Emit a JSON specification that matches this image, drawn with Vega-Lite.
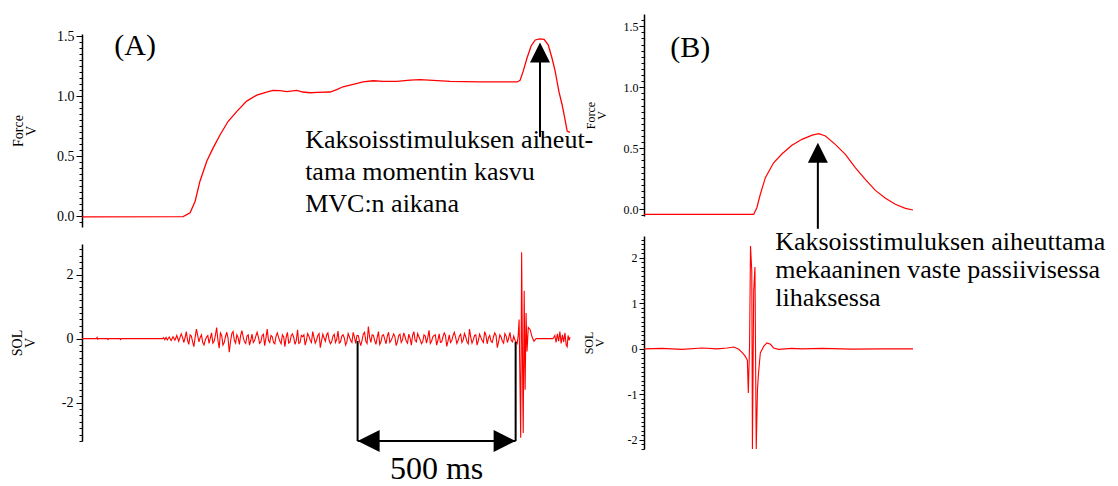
{
  "$schema": "https://vega.github.io/schema/vega-lite/v6.json",
  "padding": {"left": 10, "top": 12, "right": 0, "bottom": 0},
  "background": "white",
  "config": {
    "view": {"stroke": null},
    "axis": {"grid": false, "domainColor": "#000", "domainWidth": 1.5, "tickColor": "#000", "tickWidth": 1, "labelColor": "#000", "titleColor": "#000", "labelFont": "Liberation Serif", "titleFont": "Liberation Serif", "titleFontWeight": "normal", "labelOverlap": false, "labelFlush": false, "labelBound": false},
    "text": {"font": "Liberation Serif", "color": "#000"}
  },
  "datasets": {
    "forceA": [{"t":0,"v":-0.006},{"t":320,"v":-0.004},{"t":342,"v":0.028},{"t":358,"v":0.125},{"t":373,"v":0.29},{"t":395,"v":0.46},{"t":415,"v":0.57},{"t":437,"v":0.68},{"t":462,"v":0.79},{"t":490,"v":0.875},{"t":521,"v":0.96},{"t":553,"v":1.01},{"t":584,"v":1.036},{"t":604,"v":1.05},{"t":627,"v":1.047},{"t":648,"v":1.04},{"t":679,"v":1.05},{"t":699,"v":1.036},{"t":722,"v":1.03},{"t":743,"v":1.033},{"t":785,"v":1.036},{"t":806,"v":1.056},{"t":826,"v":1.08},{"t":858,"v":1.1},{"t":889,"v":1.12},{"t":921,"v":1.13},{"t":953,"v":1.125},{"t":996,"v":1.125},{"t":1038,"v":1.136},{"t":1070,"v":1.14},{"t":1165,"v":1.125},{"t":1259,"v":1.12},{"t":1377,"v":1.12},{"t":1386,"v":1.133},{"t":1396,"v":1.21},{"t":1408,"v":1.32},{"t":1421,"v":1.42},{"t":1434,"v":1.47},{"t":1449,"v":1.48},{"t":1462,"v":1.475},{"t":1475,"v":1.43},{"t":1487,"v":1.32},{"t":1497,"v":1.21},{"t":1509,"v":1.04},{"t":1519,"v":0.93},{"t":1528,"v":0.81},{"t":1535,"v":0.71},{"t":1544,"v":0.70}],
    "solA": [{"t":0,"v":0},{"t":45,"v":0},{"t":48,"v":0.04},{"t":50,"v":-0.02},{"t":52,"v":0},{"t":80,"v":0},{"t":82,"v":-0.03},{"t":84,"v":0},{"t":120,"v":0},{"t":122,"v":-0.03},{"t":124,"v":0},{"t":255,"v":0},{"t":258,"v":0.03},{"t":262,"v":-0.03},{"t":266,"v":0.04},{"t":270,"v":-0.04},{"t":276,"v":0.05},{"t":282,"v":-0.06},{"t":288,"v":0.06},{"t":294,"v":-0.05},{"t":300,"v":0.1},{"t":306,"v":-0.08},
      {"t":314,"v":0.15},{"t":322,"v":-0.12},{"t":330,"v":0.22},{"t":338,"v":-0.18},{"t":346,"v":0.08},{"t":354,"v":-0.25},{"t":362,"v":0.3},{"t":370,"v":-0.1},{"t":378,"v":0.12},{"t":386,"v":-0.2},{"t":394,"v":0.05},{"t":402,"v":-0.15},{"t":410,"v":0.18},{"t":418,"v":-0.08},{"t":426,"v":0.35},{"t":434,"v":-0.3},{"t":442,"v":0.1},{"t":450,"v":-0.12},{"t":458,"v":0.2},{"t":466,"v":-0.42},{"t":474,"v":0.16},{"t":482,"v":-0.05},{"t":490,"v":0.12},{"t":498,"v":-0.18},{"t":506,"v":0.25},{"t":514,"v":-0.1},{"t":522,"v":0.08},{"t":530,"v":-0.2},{"t":538,"v":0.14},{"t":546,"v":-0.06},{"t":554,"v":0.2},{"t":562,"v":-0.15},{"t":570,"v":0.1},{"t":578,"v":-0.22},{"t":586,"v":0.3},{"t":594,"v":-0.12},{"t":602,"v":0.06},{"t":610,"v":-0.16},{"t":618,"v":0.18},{"t":626,"v":-0.08},{"t":634,"v":0.12},{"t":642,"v":-0.25},{"t":650,"v":0.2},{"t":658,"v":-0.1},{"t":666,"v":0.15},{"t":674,"v":-0.18},{"t":682,"v":0.28},{"t":690,"v":-0.12},{"t":698,"v":0.06},{"t":706,"v":-0.2},{"t":714,"v":0.16},{"t":722,"v":-0.05},{"t":730,"v":0.22},{"t":738,"v":-0.14},{"t":746,"v":0.1},{"t":754,"v":-0.28},{"t":762,"v":0.14},{"t":770,"v":-0.08},{"t":778,"v":0.18},{"t":786,"v":-0.16},{"t":794,"v":0.08},{"t":802,"v":-0.12},{"t":810,"v":0.24},{"t":818,"v":-0.1},{"t":826,"v":0.12},{"t":834,"v":-0.2},{"t":842,"v":0.16},{"t":850,"v":-0.06},{"t":858,"v":0.2},{"t":866,"v":-0.15},{"t":874,"v":0.1},{"t":882,"v":-0.22},{"t":890,"v":0.14},{"t":898,"v":-0.08},{"t":906,"v":0.38},{"t":914,"v":-0.12},{"t":922,"v":0.1},{"t":930,"v":-0.18},{"t":938,"v":0.22},{"t":946,"v":-0.1},{"t":954,"v":0.12},{"t":962,"v":-0.16},{"t":970,"v":0.2},{"t":978,"v":-0.06},{"t":986,"v":0.15},{"t":994,"v":-0.22},{"t":1002,"v":0.1},{"t":1010,"v":-0.12},{"t":1018,"v":0.18},{"t":1026,"v":-0.08},{"t":1034,"v":0.14},{"t":1042,"v":-0.2},{"t":1050,"v":0.22},{"t":1058,"v":-0.1},{"t":1066,"v":0.06},{"t":1074,"v":-0.16},{"t":1082,"v":0.12},{"t":1090,"v":-0.14},{"t":1098,"v":0.26},{"t":1106,"v":-0.08},{"t":1114,"v":0.1},{"t":1122,"v":-0.2},{"t":1130,"v":0.15},{"t":1138,"v":-0.1},{"t":1146,"v":0.18},{"t":1154,"v":-0.24},{"t":1162,"v":0.12},{"t":1170,"v":-0.06},{"t":1178,"v":0.2},{"t":1186,"v":-0.15},{"t":1194,"v":0.08},{"t":1202,"v":-0.12},{"t":1210,"v":0.16},{"t":1218,"v":-0.1},{"t":1226,"v":0.3},{"t":1234,"v":-0.14},{"t":1242,"v":0.1},{"t":1250,"v":-0.2},{"t":1258,"v":0.14},{"t":1266,"v":-0.06},{"t":1274,"v":0.22},{"t":1282,"v":-0.16},{"t":1290,"v":0.1},{"t":1298,"v":-0.12},{"t":1306,"v":0.18},{"t":1314,"v":-0.28},{"t":1322,"v":0.12},{"t":1330,"v":-0.08},{"t":1338,"v":0.16},{"t":1346,"v":-0.12},{"t":1354,"v":0.2},{"t":1362,"v":-0.1},{"t":1370,"v":-0.05},
      {"t":318,"v":0.05},{"t":326,"v":0.02},{"t":334,"v":-0.05},{"t":342,"v":0.12},{"t":350,"v":-0.1},{"t":358,"v":0.05},{"t":366,"v":0.1},{"t":374,"v":0.04},{"t":382,"v":-0.12},{"t":390,"v":-0.05},{"t":398,"v":0.1},{"t":406,"v":0.02},{"t":414,"v":-0.14},{"t":422,"v":0.1},{"t":430,"v":-0.05},{"t":438,"v":0.18},{"t":446,"v":-0.2},{"t":454,"v":0.06},{"t":462,"v":0.02},{"t":470,"v":-0.08},{"t":478,"v":0.22},{"t":486,"v":-0.14},{"t":494,"v":0.03},{"t":502,"v":0.1},{"t":510,"v":0.05},{"t":518,"v":-0.15},{"t":526,"v":0.12},{"t":534,"v":-0.05},{"t":542,"v":-0.12},{"t":550,"v":0.08},{"t":558,"v":0.05},{"t":566,"v":-0.1},{"t":574,"v":0.14},{"t":582,"v":0.02},{"t":590,"v":-0.05},{"t":598,"v":0.1},{"t":606,"v":-0.12},{"t":614,"v":0.08},{"t":622,"v":0.04},{"t":630,"v":-0.16},{"t":638,"v":0.06},{"t":646,"v":0.05},{"t":654,"v":-0.14},{"t":662,"v":0.1},{"t":670,"v":0.03},{"t":678,"v":-0.06},{"t":686,"v":-0.15},{"t":694,"v":0.1},{"t":702,"v":0.12},{"t":710,"v":-0.06},{"t":718,"v":0.08},{"t":726,"v":-0.12},{"t":734,"v":0.04},{"t":742,"v":-0.05},{"t":750,"v":0.16},{"t":758,"v":-0.06},{"t":766,"v":0.02},{"t":774,"v":0.12},{"t":782,"v":-0.05},{"t":790,"v":-0.1},{"t":798,"v":0.14},{"t":806,"v":-0.02},{"t":814,"v":-0.14},{"t":822,"v":0.08},{"t":830,"v":0.02},{"t":838,"v":-0.1},{"t":846,"v":0.06},{"t":854,"v":-0.12},{"t":862,"v":0.05},{"t":870,"v":0.1},{"t":878,"v":-0.08},{"t":886,"v":-0.05},{"t":894,"v":0.2},{"t":902,"v":-0.15},{"t":910,"v":0.05},{"t":918,"v":0.12},{"t":926,"v":-0.06},{"t":934,"v":0.04},{"t":942,"v":-0.18},{"t":950,"v":0.1},{"t":958,"v":-0.02},{"t":966,"v":0.08},{"t":974,"v":-0.12},{"t":982,"v":0.04},{"t":990,"v":0.06},{"t":998,"v":-0.1},{"t":1006,"v":0.14},{"t":1014,"v":-0.04},{"t":1022,"v":0.06},{"t":1030,"v":-0.14},{"t":1038,"v":0.02},{"t":1046,"v":0.1},{"t":1054,"v":-0.06},{"t":1062,"v":0.16},{"t":1070,"v":-0.04},{"t":1078,"v":-0.1},{"t":1086,"v":0.08},{"t":1094,"v":0.04},{"t":1102,"v":-0.15},{"t":1110,"v":0.06},{"t":1118,"v":0.12},{"t":1126,"v":-0.05},{"t":1134,"v":-0.12},{"t":1142,"v":0.06},{"t":1150,"v":0.1},{"t":1158,"v":-0.08},{"t":1166,"v":-0.12},{"t":1174,"v":0.1},{"t":1182,"v":0.05},{"t":1190,"v":-0.06},{"t":1198,"v":0.14},{"t":1206,"v":-0.04},{"t":1214,"v":0.06},{"t":1222,"v":-0.16},{"t":1230,"v":0.05},{"t":1238,"v":-0.04},{"t":1246,"v":0.12},{"t":1254,"v":-0.06},{"t":1262,"v":0.04},{"t":1270,"v":-0.12},{"t":1278,"v":0.1},{"t":1286,"v":0.02},{"t":1294,"v":-0.08},{"t":1302,"v":0.06},{"t":1310,"v":0.1},{"t":1318,"v":-0.1},{"t":1326,"v":0.05},{"t":1334,"v":-0.14},{"t":1342,"v":0.08},{"t":1350,"v":0.02},{"t":1358,"v":-0.06},{"t":1366,"v":0.08},
      {"t":1377,"v":-0.15},{"t":1380,"v":0.1},{"t":1383,"v":0.6},{"t":1388,"v":-3.1},{"t":1391,"v":2.7},{"t":1394,"v":-1.0},{"t":1396,"v":-2.95},{"t":1399,"v":1.5},{"t":1402,"v":-1.6},{"t":1405,"v":0.8},{"t":1408,"v":-0.4},{"t":1412,"v":0.35},{"t":1418,"v":0.28},{"t":1424,"v":0.05},{"t":1430,"v":-0.08},{"t":1437,"v":0.0},{"t":1443,"v":0.0},{"t":1490,"v":0.0},{"t":1496,"v":0.1},{"t":1500,"v":-0.12},{"t":1504,"v":0.15},{"t":1508,"v":-0.08},{"t":1512,"v":0.22},{"t":1516,"v":-0.15},{"t":1520,"v":0.12},{"t":1524,"v":-0.1},{"t":1528,"v":0.18},{"t":1532,"v":-0.2},{"t":1535,"v":-0.25},{"t":1538,"v":0.1},{"t":1541,"v":-0.05},{"t":1544,"v":0.05}],
    "forceB": [{"t":0,"v":-0.041},{"t":347,"v":-0.041},{"t":357,"v":0.013},{"t":368,"v":0.123},{"t":384,"v":0.259},{"t":410,"v":0.381},{"t":437,"v":0.455},{"t":468,"v":0.524},{"t":500,"v":0.573},{"t":532,"v":0.608},{"t":553,"v":0.619},{"t":574,"v":0.6},{"t":605,"v":0.532},{"t":637,"v":0.45},{"t":669,"v":0.34},{"t":700,"v":0.245},{"t":732,"v":0.155},{"t":764,"v":0.09},{"t":795,"v":0.041},{"t":827,"v":0.008},{"t":851,"v":-0.006}],
    "solB": [{"t":0,"v":0},{"t":57,"v":0.01},{"t":120,"v":-0.01},{"t":184,"v":0.02},{"t":231,"v":0.0},{"t":263,"v":0.02},{"t":284,"v":0.04},{"t":300,"v":-0.01},{"t":313,"v":-0.1},{"t":320,"v":-0.16},{"t":327,"v":-0.25},{"t":330,"v":-0.97},{"t":334,"v":0.1},{"t":337,"v":2.26},{"t":341,"v":1.7},{"t":343,"v":-2.2},{"t":347,"v":1.27},{"t":351,"v":1.8},{"t":355,"v":-2.2},{"t":359,"v":-0.9},{"t":362,"v":-0.56},{"t":368,"v":-0.09},{"t":379,"v":0.06},{"t":389,"v":0.13},{"t":400,"v":0.1},{"t":410,"v":0.02},{"t":426,"v":-0.01},{"t":468,"v":0.01},{"t":500,"v":0.0},{"t":563,"v":0.01},{"t":658,"v":-0.005},{"t":753,"v":0.0},{"t":851,"v":0.0}]
  },
  "hconcat": [
    {
      "spacing": 17,
      "bounds": "flush",
      "vconcat": [
        {"width": 488, "height": 3, "data": {"values": [{"t": 0}]}, "mark": {"type": "point", "opacity": 0}, "encoding": {}},
        {
          "width": 488, "height": 193,
          "resolve": {"axis": {"y": "independent"}},
          "layer": [
            {"data": {"name": "forceA"}, "mark": {"type": "line", "color": "#ff0000", "strokeWidth": 1.3},
             "encoding": {
               "x": {"field": "t", "type": "quantitative", "scale": {"domain": [0, 1544], "nice": false, "zero": false}, "axis": null},
               "y": {"field": "v", "type": "quantitative", "scale": {"domain": [-0.09, 1.52], "nice": false, "zero": false},
                 "axis": {"orient": "left", "title": ["Force", "V"], "titleFontSize": 14, "titleLineHeight": 13, "titlePadding": 18, "labelFontSize": 14, "labelPadding": 2, "labelOverlap": false,
                   "values": [0, 0.5, 1, 1.5], "format": ".1f", "tickSize": 6}}
             }},
            {"data": {"name": "forceA"}, "mark": {"type": "line", "opacity": 0},
             "encoding": {
               "x": {"field": "t", "type": "quantitative", "axis": null},
               "y": {"field": "v", "type": "quantitative",
                 "axis": {"orient": "left", "title": null, "labels": false, "domain": false, "tickSize": 3,
                   "values": [-0.05,0,0.05,0.1,0.15,0.2,0.25,0.3,0.35,0.4,0.45,0.5,0.55,0.6,0.65,0.7,0.75,0.8,0.85,0.9,0.95,1,1.05,1.1,1.15,1.2,1.25,1.3,1.35,1.4,1.45,1.5]}}
             }},
            {"data": {"values": [{"t": 1449, "v": 0.66, "v2": 1.3}]}, "mark": {"type": "rule", "color": "#000", "strokeWidth": 2},
             "encoding": {"x": {"field": "t", "type": "quantitative", "axis": null}, "y": {"field": "v", "type": "quantitative", "axis": null}, "y2": {"field": "v2"}}},
            {"data": {"values": [{"t": 1449, "v": 1.45}]}, "mark": {"type": "point", "shape": "M0,0L-1,2L1,2Z", "size": 400, "filled": true, "color": "#000", "opacity": 1},
             "encoding": {"x": {"field": "t", "type": "quantitative", "axis": null}, "y": {"field": "v", "type": "quantitative", "axis": null}}},
            {"data": {"values": [{"t": 168, "v": 1.42, "label": "(A)"}]}, "mark": {"type": "text", "font": "Liberation Serif", "fontSize": 30, "align": "center", "baseline": "middle"},
             "encoding": {"x": {"field": "t", "type": "quantitative", "axis": null}, "y": {"field": "v", "type": "quantitative", "axis": null}, "text": {"field": "label"}}},
            {"data": {"values": [{"t": 706, "v": 0.567, "label": "Kaksoisstimuluksen aiheut-\ntama momentin kasvu\nMVC:n aikana"}]}, "mark": {"type": "text", "font": "Liberation Serif", "fontSize": 26, "align": "left", "baseline": "alphabetic", "lineBreak": "\n", "lineHeight": 32},
             "encoding": {"x": {"field": "t", "type": "quantitative", "axis": null}, "y": {"field": "v", "type": "quantitative", "axis": null}, "text": {"field": "label"}}}
          ]
        },
        {
          "width": 488, "height": 197,
          "resolve": {"axis": {"y": "independent"}},
          "layer": [
            {"data": {"name": "solA"}, "mark": {"type": "line", "color": "#ff0000", "strokeWidth": 1.1},
             "encoding": {
               "x": {"field": "t", "type": "quantitative", "scale": {"domain": [0, 1544], "nice": false, "zero": false}, "axis": null},
               "y": {"field": "v", "type": "quantitative", "scale": {"domain": [-3.2, 2.96], "nice": false, "zero": false},
                 "axis": {"orient": "left", "title": ["SOL", "V"], "titleFontSize": 14, "titleLineHeight": 13, "titlePadding": 24, "labelFontSize": 14, "labelPadding": 3, "labelOverlap": false,
                   "values": [-2, 0, 2], "labelExpr": "datum.value < 0 ? '-' + abs(datum.value) : '' + datum.value", "tickSize": 6}}
             }},
            {"data": {"name": "solA"}, "mark": {"type": "line", "opacity": 0},
             "encoding": {
               "x": {"field": "t", "type": "quantitative", "axis": null},
               "y": {"field": "v", "type": "quantitative",
                 "axis": {"orient": "left", "title": null, "labels": false, "domain": false, "tickSize": 3,
                   "values": [-3.2,-3,-2.8,-2.6,-2.4,-2.2,-2,-1.8,-1.6,-1.4,-1.2,-1,-0.8,-0.6,-0.4,-0.2,0,0.2,0.4,0.6,0.8,1,1.2,1.4,1.6,1.8,2,2.2,2.4,2.6,2.8]}}
             }},
            {"data": {"values": [{"t": 872, "v": -0.07, "v2": -3.2}, {"t": 1372, "v": -0.1, "v2": -3.2}]}, "mark": {"type": "rule", "color": "#000", "strokeWidth": 2},
             "encoding": {"x": {"field": "t", "type": "quantitative", "axis": null}, "y": {"field": "v", "type": "quantitative", "axis": null}, "y2": {"field": "v2"}}},
            {"data": {"values": [{"t": 872, "t2": 1372, "v": -3.2}]}, "mark": {"type": "rule", "color": "#000", "strokeWidth": 2},
             "encoding": {"x": {"field": "t", "type": "quantitative", "axis": null}, "x2": {"field": "t2"}, "y": {"field": "v", "type": "quantitative", "axis": null}}},
            {"data": {"values": [{"t": 872, "v": -3.2}]}, "mark": {"type": "point", "shape": "M0,0L2,-1L2,1Z", "size": 484, "filled": true, "color": "#000", "opacity": 1},
             "encoding": {"x": {"field": "t", "type": "quantitative", "axis": null}, "y": {"field": "v", "type": "quantitative", "axis": null}}},
            {"data": {"values": [{"t": 1372, "v": -3.2}]}, "mark": {"type": "point", "shape": "M0,0L-2,-1L-2,1Z", "size": 484, "filled": true, "color": "#000", "opacity": 1},
             "encoding": {"x": {"field": "t", "type": "quantitative", "axis": null}, "y": {"field": "v", "type": "quantitative", "axis": null}}},
            {"data": {"values": [{"t": 1122, "v": -4.38, "label": "500 ms"}]}, "mark": {"type": "text", "font": "Liberation Serif", "fontSize": 32, "align": "center", "baseline": "alphabetic"},
             "encoding": {"x": {"field": "t", "type": "quantitative", "axis": null}, "y": {"field": "v", "type": "quantitative", "axis": null}, "text": {"field": "label"}}}
          ]
        }
      ]
    },
    {
      "spacing": 20,
      "bounds": "flush",
      "vconcat": [
        {
          "width": 269, "height": 202,
          "resolve": {"axis": {"y": "independent"}},
          "layer": [
            {"data": {"name": "forceB"}, "mark": {"type": "line", "color": "#ff0000", "strokeWidth": 1.2},
             "encoding": {
               "x": {"field": "t", "type": "quantitative", "scale": {"domain": [0, 851], "nice": false, "zero": false}, "axis": null},
               "y": {"field": "v", "type": "quantitative", "scale": {"domain": [-0.055, 1.6], "nice": false, "zero": false},
                 "axis": {"orient": "left", "title": ["Force", "V"], "titleFontSize": 12, "titleLineHeight": 11, "titlePadding": 15, "labelFontSize": 12, "labelPadding": 1, "labelOverlap": false,
                   "values": [0, 0.5, 1, 1.5], "format": ".1f", "tickSize": 5}}
             }},
            {"data": {"name": "forceB"}, "mark": {"type": "line", "opacity": 0},
             "encoding": {
               "x": {"field": "t", "type": "quantitative", "axis": null},
               "y": {"field": "v", "type": "quantitative",
                 "axis": {"orient": "left", "title": null, "labels": false, "domain": false, "tickSize": 3,
                   "values": [-0.05,0,0.05,0.1,0.15,0.2,0.25,0.3,0.35,0.4,0.45,0.5,0.55,0.6,0.65,0.7,0.75,0.8,0.85,0.9,0.95,1,1.05,1.1,1.15,1.2,1.25,1.3,1.35,1.4,1.45,1.5,1.55]}}
             }},
            {"data": {"values": [{"t": 550, "v": -0.16, "v2": 0.45}]}, "mark": {"type": "rule", "color": "#000", "strokeWidth": 2},
             "encoding": {"x": {"field": "t", "type": "quantitative", "axis": null}, "y": {"field": "v", "type": "quantitative", "axis": null}, "y2": {"field": "v2"}}},
            {"data": {"values": [{"t": 550, "v": 0.545}]}, "mark": {"type": "point", "shape": "M0,0L-1,2L1,2Z", "size": 400, "filled": true, "color": "#000", "opacity": 1},
             "encoding": {"x": {"field": "t", "type": "quantitative", "axis": null}, "y": {"field": "v", "type": "quantitative", "axis": null}}},
            {"data": {"values": [{"t": 146, "v": 1.32, "label": "(B)"}]}, "mark": {"type": "text", "font": "Liberation Serif", "fontSize": 30, "align": "center", "baseline": "middle"},
             "encoding": {"x": {"field": "t", "type": "quantitative", "axis": null}, "y": {"field": "v", "type": "quantitative", "axis": null}, "text": {"field": "label"}}}
          ]
        },
        {
          "width": 269, "height": 213,
          "resolve": {"axis": {"y": "independent"}},
          "layer": [
            {"data": {"name": "solB"}, "mark": {"type": "line", "color": "#ff0000", "strokeWidth": 1.1},
             "encoding": {
               "x": {"field": "t", "type": "quantitative", "scale": {"domain": [0, 851], "nice": false, "zero": false}, "axis": null},
               "y": {"field": "v", "type": "quantitative", "scale": {"domain": [-2.2, 2.48], "nice": false, "zero": false},
                 "axis": {"orient": "left", "title": ["SOL", "V"], "titleFontSize": 12, "titleLineHeight": 11, "titlePadding": 21, "labelFontSize": 12, "labelPadding": 2, "labelOverlap": false,
                   "values": [-2, -1, 0, 1, 2], "labelExpr": "datum.value < 0 ? '-' + abs(datum.value) : '' + datum.value", "tickSize": 5}}
             }},
            {"data": {"name": "solB"}, "mark": {"type": "line", "opacity": 0},
             "encoding": {
               "x": {"field": "t", "type": "quantitative", "axis": null},
               "y": {"field": "v", "type": "quantitative",
                 "axis": {"orient": "left", "title": null, "labels": false, "domain": false, "tickSize": 3,
                   "values": [-2.2,-2.1,-2,-1.9,-1.8,-1.7,-1.6,-1.5,-1.4,-1.3,-1.2,-1.1,-1,-0.9,-0.8,-0.7,-0.6,-0.5,-0.4,-0.3,-0.2,-0.1,0,0.1,0.2,0.3,0.4,0.5,0.6,0.7,0.8,0.9,1,1.1,1.2,1.3,1.4,1.5,1.6,1.7,1.8,1.9,2,2.1,2.2,2.3,2.4]}}
             }},
            {"data": {"values": [{"t": 415, "v": 2.17, "label": "Kaksoisstimuluksen aiheuttama\nmekaaninen vaste passiivisessa\nlihaksessa"}]}, "mark": {"type": "text", "font": "Liberation Serif", "fontSize": 26, "align": "left", "baseline": "alphabetic", "lineBreak": "\n", "lineHeight": 28},
             "encoding": {"x": {"field": "t", "type": "quantitative", "axis": null}, "y": {"field": "v", "type": "quantitative", "axis": null}, "text": {"field": "label"}}}
          ]
        }
      ]
    }
  ],
  "spacing": -12
}
